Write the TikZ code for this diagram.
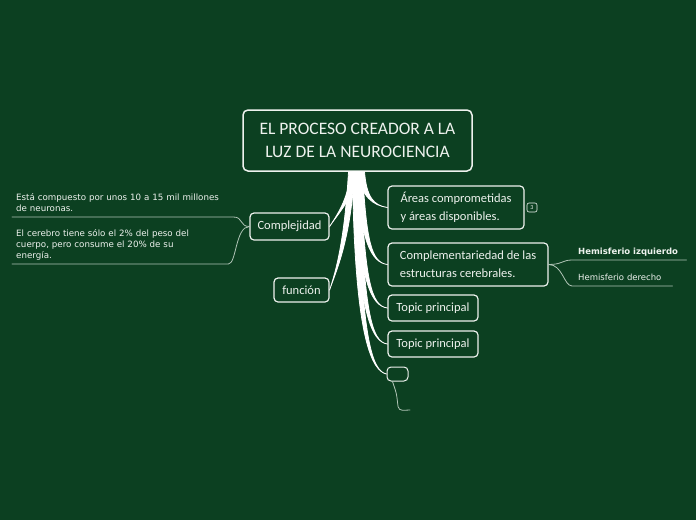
\documentclass[tikz,border=0pt]{standalone}
\usepackage{fontspec}
\setmainfont{Carlito}
\newfontfamily\leaffont{DejaVu Sans}
\usetikzlibrary{calc}

\definecolor{boardgreen}{RGB}{12,64,33}
\definecolor{chalk}{RGB}{238,242,238}
\definecolor{twigline}{RGB}{176,196,182}

% tapered white strand from the central topic to a subtopic
\newcommand{\strand}[4]{%
  \filldraw[strand]
    ($(main.south)+(#1-3,0)$)
    .. controls +#3 and +#4 .. (#2)
    .. controls +#4 and +#3 ..
    ($(main.south)+(#1+3,0)$) -- cycle;}

\begin{document}
\begin{tikzpicture}[
  x=1pt, y=-1pt,
  line cap=round,
  line join=round,
  central/.style={
    draw=chalk,
    line width=1.5pt,
    rounded corners=5pt,
    text=chalk,
    align=center,
    minimum width=229pt,
    minimum height=61pt,
    font=\fontsize{17.5}{23}\selectfont
  },
  topic/.style={
    draw=chalk,
    line width=1.2pt,
    rounded corners=4pt,
    text=chalk,
    align=left,
    inner sep=0pt,
    font=\fontsize{12.5}{18}\selectfont
  },
  badge/.style={
    draw=chalk,
    line width=0.6pt,
    rounded corners=2pt,
    text=chalk,
    inner sep=0pt,
    minimum width=10pt,
    minimum height=9pt,
    font=\fontsize{6}{6}\selectfont
  },
  leaf/.style={
    anchor=south west,
    text=chalk,
    align=left,
    inner xsep=4pt,
    inner ysep=2pt,
    font=\leaffont\fontsize{8.7}{10.8}\selectfont
  },
  strand/.style={
    fill=white,
    draw=white,
    line width=0.8pt
  },
  twig/.style={
    draw=twigline,
    line width=0.8pt
  }
]

% Board
\fill[boardgreen] (0,0) rectangle (696,520);
\useasboundingbox (0,0) rectangle (696,520);

% Main nodes
\node[central] (main) at (357.5,140.5)
  {EL PROCESO CREADOR A LA\\LUZ DE LA NEUROCIENCIA};

% Right side
\node[topic, minimum width=136pt, minimum height=43pt] (areas) at (456,207.5)
  {Áreas comprometidas\\y áreas disponibles.};
\node[badge] (num) at (532,207.5) {3};
\node[topic, minimum width=160pt, minimum height=43pt] (compl) at (468,264.5)
  {Complementariedad de las\\estructuras cerebrales.};
\node[topic, minimum width=90pt, minimum height=26pt] (tp1) at (433,308) {Topic principal};
\node[topic, minimum width=90pt, minimum height=26pt] (tp2) at (433,344) {Topic principal};
\node[topic, line width=1pt, minimum width=21pt, minimum height=14pt] (empty) at (397.5,374) {};

% Left side
\node[topic, minimum width=79pt, minimum height=27pt] (complej) at (289.5,226.5) {Complejidad};
\node[topic, minimum width=55pt, minimum height=24pt] (funcion) at (301.5,290) {función};

% Leaves
\node[leaf, text width=213pt] (neur) at (12,217)
  {Está compuesto por unos 10 a 15 mil millones\\de neuronas.\strut};
\node[leaf, text width=208pt] (cereb) at (12,264)
  {El cerebro tiene sólo el 2\% del peso del\\cuerpo, pero consume el 20\% de su\\energía.\strut};
\node[leaf, text width=102pt, inner xsep=6pt, font=\leaffont\bfseries\fontsize{8.5}{10.5}\selectfont] (hizq) at (572,260)
  {Hemisferio izquierdo\strut};
\node[leaf, text width=88pt, inner xsep=6pt, font=\leaffont\fontsize{8.5}{10.5}\selectfont] (hder) at (572,286)
  {Hemisferio derecho\strut};

\coordinate (tail) at (410,410);

% Strands
\strand{4}{areas.west}{(2,25)}{(-14,-2)}
\strand{2}{compl.west}{(4,70)}{(-16,-2)}
\strand{0}{tp1.west}{(4,110)}{(-16,-2)}
\strand{-1}{tp2.west}{(4,140)}{(-16,-2)}
\strand{-2}{empty.west}{(2,170)}{(-14,-3)}
\strand{-4}{complej.east}{(-2,25)}{(10,-15)}
\strand{-6}{funcion.east}{(-4,70)}{(6,-18)}

% Twigs
\draw[twig] (complej.west) .. controls +(-10,0) and +(10,0) .. (neur.south east) -- (neur.south west);
\draw[twig] (complej.west) .. controls +(-14,0) and +(8,0) .. (cereb.south east) -- (cereb.south west);
\draw[twig] (compl.east) .. controls +(14,0) and +(-10,0) .. (hizq.south west) -- (hizq.south east);
\draw[twig] (compl.east) .. controls +(14,0) and +(-8,0) .. (hder.south west) -- (hder.south east);
\draw[twig, rounded corners=4pt] ($(empty.south west)+(6,0)$) -- ++(4,12) -- ++(2,17) -- (tail);

\end{tikzpicture}
\end{document}
